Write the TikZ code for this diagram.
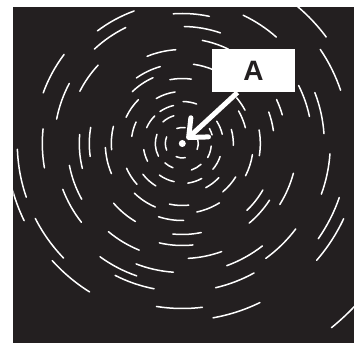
\documentclass[tikz,border=0pt]{standalone}
\usepackage{fontspec}
\setmainfont{Liberation Sans}
\usetikzlibrary{arrows.meta}
\definecolor{bg}{HTML}{231F20}
\begin{document}
\begin{tikzpicture}[x=1pt,y=1pt,
  trail/.style={white,line width=1.5pt,line cap=round},
  labelbox/.style={fill=white,minimum width=82.4pt,minimum height=43pt,inner sep=0pt,text=bg,font=\fontsize{28}{28}\selectfont\bfseries},
  pointer/.style={white,line width=5pt,-{Straight Barb[length=15pt,width=26pt,round]}}]
\useasboundingbox (0,0) rectangle (358,343);
\fill[bg] (13.3,0) rectangle (354,336.3);
\coordinate (C) at (182.3,199.5);
\begin{scope}
\clip (13.3,0) rectangle (354,336.3);
\foreach \r/\a/\b in {
 16/80/110, 17/157/203, 14.5/245/282, 16/-22/14,
 29/107/132, 27/160/208, 26/228/249, 28/289/312, 29/331/355, 31/16/29,
 39/103/125, 39/135/156, 39/189/207, 39/234/258, 40/278/299, 40/320/341, 41/13/33, 42/70/89,
 52/98/120, 51/155/172, 50/218/238, 50/298/317, 51/-2/16,
 62/135/155, 61/204/222, 62/258/276, 63/310/328, 65/14/30, 65/82/101,
 72/114/134, 71/166/185, 69/226/247, 70/282/302, 71/333/351, 71/28/40,
 80/106/125, 80/66/82, 77/183/203, 77/252/271, 78/351/370,
 94/94/112, 93/170/188, 91/221/239, 91/264/282, 93/314/330, 92/8/20,
 105/64/79, 103/175/194, 102/257/276, 104/310/327, 104/16/25,
 117/71/89, 115/137/153, 115/191/209, 115/230/248, 115/273/290, 115/328/345,
 129/116/133, 130/78/94, 128/152/169, 128/201/218, 129/249/266, 130/290/308, 130/12/26.5,
 141/110/127, 142/48.5/64.6, 140/174/190, 140/234/251, 142/306/323, 142/4/21,
 148/143/160, 148/243/259, 148/283/299, 148/340/356,
 165/182/199, 165/207/224, 165/261/277, 166/325/341, 167/18.6/34.3,
 176/188/206, 175/222/238, 177/280/296, 178/319/335, 179/36.5/50,
 237/309/320}
 {\draw[trail] ([shift={(\a:\r)}]C) arc[start angle=\a,end angle=\b,radius=\r];}
\end{scope}
\node[labelbox] (boxA) at (253.5,272.2) {A};
\coordinate (tip) at (186.8,203.8);
\draw[pointer] ([xshift=-16pt]boxA.south) -- (tip);
\node[circle,fill=white,inner sep=0pt,minimum size=7pt] (dot) at (C) {};
\end{tikzpicture}
\end{document}
